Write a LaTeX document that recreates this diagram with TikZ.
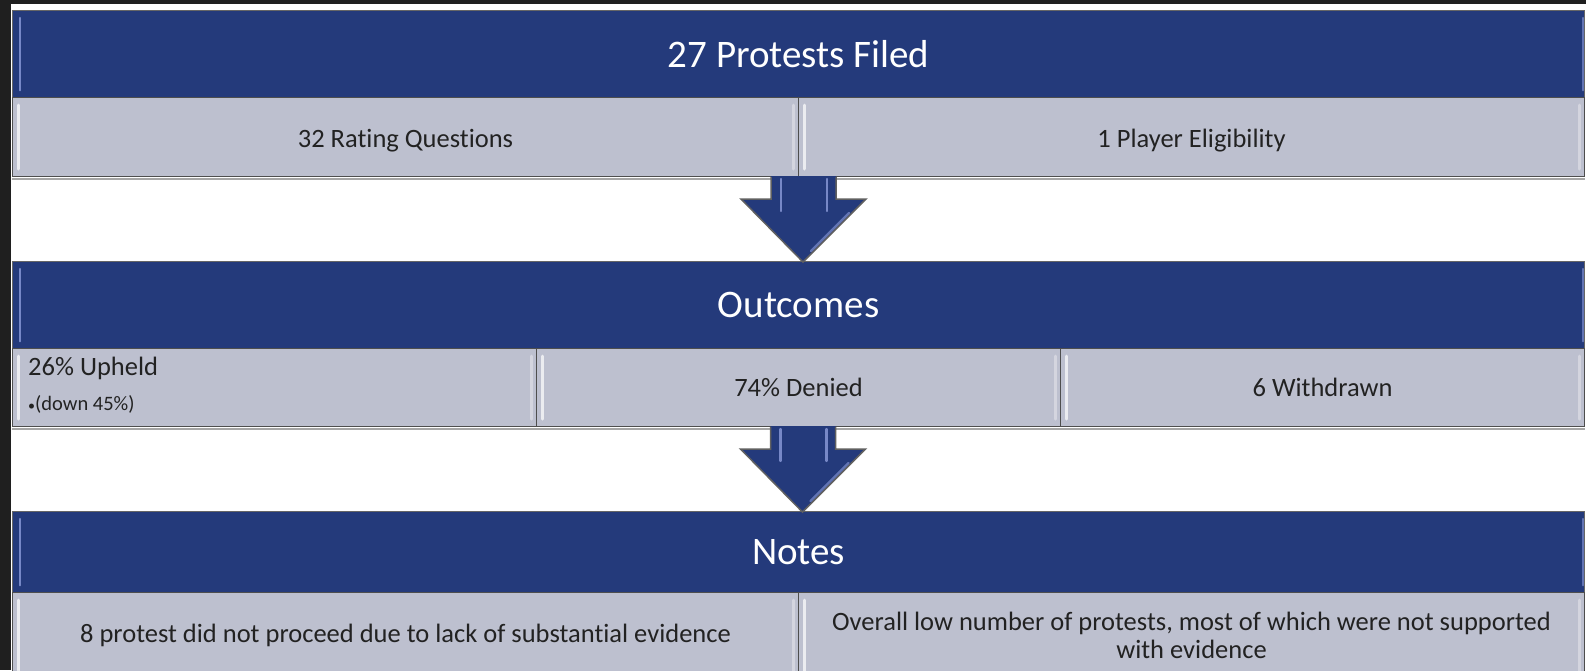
\documentclass[tikz,border=0pt]{standalone}
\usepackage{fontspec}
\setmainfont{Carlito}[Ligatures={NoCommon}]
\usetikzlibrary{calc}
\definecolor{navy}{HTML}{243A7B}
\definecolor{rowgray}{HTML}{BDC0CF}
\definecolor{framedark}{HTML}{1F1F1F}
\definecolor{edgegray}{HTML}{4E4E4E}
\definecolor{bandhl}{HTML}{8C9CDA}
\definecolor{textdark}{HTML}{222222}
\begin{document}
\begin{tikzpicture}[x=1pt,y=-1pt,
  band/.style={fill=navy, draw=gray!80!black, line width=1.2pt, text=white,
    font=\fontsize{39}{42}\selectfont, inner sep=0pt, anchor=north west,
    minimum width=1572pt, minimum height=87pt},
  cell/.style={fill=rowgray, draw=edgegray, line width=1pt, text=textdark,
    font=\fontsize{26.5}{28}\selectfont, inner sep=0pt, anchor=north west, align=center},
  half/.style={cell, minimum width=786pt, minimum height=79pt},
  third/.style={cell, minimum width=524pt, minimum height=78pt},
  lowcell/.style={cell, minimum width=786pt, minimum height=86pt},
  hlgray/.style={white, opacity=0.7, line width=3pt, line cap=round},
  hlband/.style={bandhl, opacity=0.8, line width=2.5pt, line cap=round},
  arrowbody/.style={fill=navy, draw=gray!75!black, line width=1.5pt, line join=miter},
  arrowhl/.style={bandhl, opacity=0.8, line width=2.2pt, line cap=round}
]
\useasboundingbox (0,0) rectangle (1586,670);
\clip (0,0) rectangle (1586,670);
\fill[white] (0,0) rectangle (1586,670);
\fill[framedark] (0,0) rectangle (1586,4);
\fill[framedark] (0,0) rectangle (11,670);

% ---- Section 1
\node[band] (b1) at (12,10) {};
\node[text=white, font=\fontsize{39}{42}\selectfont] (b1t) at (b1.center) {27 Protests Filed};
\node[half] (c1l) at (12,97) {\raisebox{-4pt}[\height][\depth]{32 Rating Questions}};
\node[half] (c1r) at (798,97) {\raisebox{-4pt}[\height][\depth]{1 Player Eligibility}};

% ---- Section 2
\node[band] (b2) at (12,261) {};
\node[text=white, font=\fontsize{39}{42}\selectfont] (b2t) at (b2.center) {Outcomes};
\node[third] (c2a) at (12,348) {};
\node[third] (c2b) at (536,348) {74\% Denied};
\node[third] (c2c) at (1060,348) {6 Withdrawn};
\node[anchor=north west, inner sep=0pt, text=textdark, font=\fontsize{26.5}{28}\selectfont]
  (up1) at ($(c2a.north west)+(16,9)$) {26\% Upheld};
\node[anchor=north west, inner sep=0pt, text=textdark, font=\fontsize{20.5}{22}\selectfont]
  (up2) at ($(c2a.north west)+(16,47)$) {{\fontsize{14}{14}\selectfont\textbullet}(down 45\%)};

% ---- Section 3
\node[band, minimum height=81pt] (b3) at (12,511) {};
\node[text=white, font=\fontsize{39}{42}\selectfont] (b3t) at (b3.center) {Notes};
\node[lowcell] (c3l) at (12,592) {8 protest did not proceed due to lack of substantial evidence};
\node[lowcell] (c3r) at (798,592) {Overall low number of protests, most of which were not supported\\with evidence};

% ---- highlights on bands
\foreach \b in {b1,b2,b3}{
  \draw[hlband] ($(\b.north west)+(8,8)$) -- ($(\b.south west)+(8,-8)$);
  \draw[hlband, opacity=0.6] ($(\b.north east)+(-2,8)$) -- ($(\b.south east)+(-2,-8)$);
}
% ---- highlights on cells
\foreach \c in {c1l,c1r,c2a,c2b,c2c,c3l,c3r}{
  \draw[hlgray] ($(\c.north west)+(6,8)$) -- ($(\c.south west)+(6,-8)$);
  \draw[hlgray, opacity=0.35] ($(\c.north east)+(-6,8)$) -- ($(\c.south east)+(-6,-8)$);
}
% ---- bottom shadows of cell rows
\draw[gray!70, line width=2pt] ($(c1l.south west)+(0,1.5)$) -- ($(c1r.south east)+(0,1.5)$);
\draw[gray!70, line width=2pt] ($(c2a.south west)+(0,1.5)$) -- ($(c2c.south east)+(0,1.5)$);

% ---- block arrows
\coordinate (a1) at ($(c1l.south east)+(4,0)$);
\coordinate (a2) at ($(c2b.south)+(4,0)$);
\foreach \a/\tgt in {a1/b2,a2/b3}{
  \fill[navy] ($(\a)+(-32,-1)$) -- ++(0,23) -- ++(-30,0) -- ($(\a |- \tgt.north)+(0,1)$)
     -- ($(\a)+(63,22)$) -- ++(-30,0) -- ++(0,-23) -- cycle;
  \draw[arrowbody, fill=none] ($(\a)+(-32,0)$) -- ++(0,22) -- ++(-30,0) -- ($(\a |- \tgt.north)+(0,1)$)
     -- ($(\a)+(63,22)$) -- ++(-30,0) -- ++(0,-22);
  \draw[arrowhl] ($(\a)+(-22,2)$) -- ++(0,32);
  \draw[arrowhl] ($(\a)+(24,2)$) -- ++(0,32);
  \draw[arrowhl, opacity=0.6] ($(\a)+(46,36)$) -- ($(\a |- \tgt.north)+(8,-10)$);
}
\end{tikzpicture}
\end{document}
